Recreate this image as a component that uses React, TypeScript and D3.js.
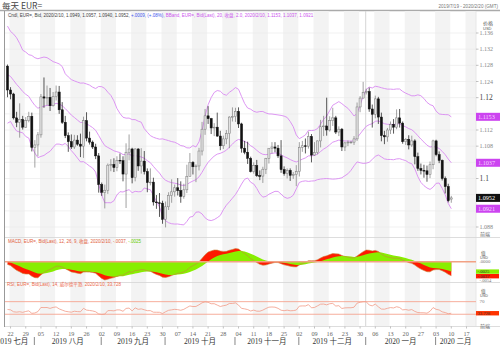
import React from 'react';
import * as d3 from 'd3';

// ---- data ----
const priorCloses = [1.1165, 1.1161, 1.1150, 1.1180, 1.1205, 1.1193, 1.1157, 1.1130, 1.1130, 1.1169, 1.1240, 1.1253, 1.1221, 1.1276, 1.1331, 1.1311, 1.1328, 1.1289, 1.1274, 1.1210, 1.1221, 1.1193, 1.1227, 1.1293, 1.1369, 1.1398, 1.1366, 1.1369, 1.1371, 1.1370, 1.1286, 1.1288, 1.1285, 1.1284, 1.1225, 1.1214, 1.1206, 1.1252, 1.1254, 1.1270, 1.1260, 1.1211, 1.1224, 1.1278];

const opens = [
  1.1278, 1.1219, 1.1209, 1.1150, 1.1139, 1.1146, 1.1127, 1.1143, 1.1154, 1.1077,
  1.1083, 1.1108, 1.1202, 1.1199, 1.1201, 1.1180, 1.1203, 1.1214, 1.1170, 1.1139,
  1.1106, 1.1091, 1.1078, 1.1095, 1.1085, 1.1080, 1.1143, 1.1100, 1.1090, 1.1078,
  1.1056, 1.0985, 1.0966, 1.0971, 1.1033, 1.1035, 1.1027, 1.1045, 1.1044, 1.1011,
  1.1065, 1.1073, 1.1002, 1.1073, 1.1031, 1.1043, 1.1017, 1.0990, 1.0991, 1.0942,
  1.0940, 1.0939, 1.0899, 1.0930, 1.0958, 1.0967, 1.0977, 1.0970, 1.0956, 1.0972,
  1.1005, 1.1040, 1.1029, 1.1031, 1.1068, 1.1122, 1.1155, 1.1148, 1.1125, 1.1127,
  1.1105, 1.1081, 1.1098, 1.1111, 1.1152, 1.1153, 1.1166, 1.1135, 1.1075, 1.1065,
  1.1050, 1.1017, 1.1032, 1.1007, 1.1006, 1.1023, 1.1050, 1.1075, 1.1078, 1.1075,
  1.1056, 1.1022, 1.1012, 1.1020, 1.1008, 1.1010, 1.1017, 1.1077, 1.1081, 1.1080,
  1.1104, 1.1058, 1.1064, 1.1093, 1.1128, 1.1130, 1.1120, 1.1143, 1.1150, 1.1115,
  1.1122, 1.1078, 1.1088, 1.1090, 1.1090, 1.1098, 1.1177, 1.1199, 1.1213, 1.1215,
  1.1172, 1.1159, 1.1197, 1.1152, 1.1106, 1.1103, 1.1120, 1.1134, 1.1127, 1.1150,
  1.1137, 1.1091, 1.1097, 1.1083, 1.1093, 1.1054, 1.1025, 1.1020, 1.1019, 1.1010,
  1.1034, 1.1093, 1.1059, 1.1045, 1.1000, 1.0980, 1.0949,
];
const highs = [
  1.1282, 1.1226, 1.1212, 1.1165, 1.1186, 1.1155, 1.1152, 1.1165, 1.1163, 1.1095,
  1.1115, 1.1209, 1.1250, 1.1230, 1.1224, 1.1214, 1.1230, 1.1229, 1.1189, 1.1155,
  1.1114, 1.1109, 1.1108, 1.1107, 1.1111, 1.1153, 1.1164, 1.1116, 1.1094, 1.1086,
  1.1063, 1.0990, 1.0985, 1.1037, 1.1048, 1.1050, 1.1055, 1.1062, 1.1055, 1.1087,
  1.1109, 1.1076, 1.1075, 1.1075, 1.1075, 1.1068, 1.1025, 1.1025, 1.1002, 1.0959,
  1.0964, 1.0945, 1.0943, 1.0966, 1.0998, 1.0985, 1.1001, 1.0993, 1.0987, 1.1034,
  1.1063, 1.1043, 1.1035, 1.1076, 1.1140, 1.1172, 1.1179, 1.1150, 1.1137, 1.1163,
  1.1118, 1.1106, 1.1120, 1.1154, 1.1176, 1.1175, 1.1176, 1.1138, 1.1093, 1.1091,
  1.1054, 1.1040, 1.1046, 1.1020, 1.1029, 1.1051, 1.1075, 1.1090, 1.1090, 1.1083,
  1.1095, 1.1030, 1.1025, 1.1025, 1.1016, 1.1033, 1.1090, 1.1093, 1.1099, 1.1116,
  1.1110, 1.1090, 1.1094, 1.1145, 1.1155, 1.1200, 1.1154, 1.1175, 1.1155, 1.1129,
  1.1125, 1.1091, 1.1094, 1.1093, 1.1105, 1.1188, 1.1204, 1.1239, 1.1222, 1.1225,
  1.1183, 1.1205, 1.1202, 1.1163, 1.1118, 1.1125, 1.1141, 1.1147, 1.1171, 1.1172,
  1.1141, 1.1100, 1.1107, 1.1106, 1.1097, 1.1064, 1.1037, 1.1034, 1.1032, 1.1042,
  1.1096, 1.1096, 1.1067, 1.1047, 1.1005, 1.0987, 1.0957,
];
const lows = [
  1.1201, 1.1196, 1.1146, 1.1127, 1.1101, 1.1121, 1.1125, 1.1139, 1.1067, 1.1027,
  1.1055, 1.1101, 1.1175, 1.1181, 1.1167, 1.1178, 1.1193, 1.1160, 1.1135, 1.1100,
  1.1066, 1.1073, 1.1073, 1.1081, 1.1053, 1.1051, 1.1092, 1.1084, 1.1073, 1.1048,
  1.0965, 1.0957, 1.0926, 1.0962, 1.1018, 1.1016, 1.1018, 1.1036, 1.0993, 1.0927,
  1.1045, 1.0988, 1.0993, 1.1019, 1.1012, 1.1010, 1.0966, 1.0983, 1.0933, 1.0925,
  1.0905, 1.0888, 1.0879, 1.0922, 1.0940, 1.0955, 1.0958, 1.0940, 1.0950, 1.0964,
  1.1005, 1.1010, 1.0991, 1.1020, 1.1057, 1.1108, 1.1135, 1.1110, 1.1105, 1.1103,
  1.1070, 1.1073, 1.1085, 1.1075, 1.1141, 1.1140, 1.1125, 1.1064, 1.1060, 1.1036,
  1.1015, 1.1012, 1.1004, 1.0996, 1.0989, 1.1011, 1.1037, 1.1062, 1.1065, 1.1051,
  1.1014, 1.1007, 1.1000, 1.0994, 1.0999, 1.0981, 1.1005, 1.1066, 1.1062, 1.1074,
  1.1040, 1.1056, 1.1060, 1.1077, 1.1105, 1.1106, 1.1116, 1.1130, 1.1110, 1.1105,
  1.1068, 1.1068, 1.1080, 1.1086, 1.1083, 1.1093, 1.1164, 1.1198, 1.1208, 1.1165,
  1.1126, 1.1149, 1.1135, 1.1092, 1.1085, 1.1091, 1.1110, 1.1111, 1.1122, 1.1126,
  1.1086, 1.1083, 1.1072, 1.1078, 1.1035, 1.1019, 1.1010, 1.1002, 1.0992, 1.1001,
  1.1023, 1.1055, 1.1038, 1.0995, 1.0963, 1.0941, 1.0940,
];
const closes = [
  1.1219, 1.1209, 1.1150, 1.1139, 1.1146, 1.1127, 1.1143, 1.1154, 1.1077, 1.1083,
  1.1108, 1.1202, 1.1199, 1.1201, 1.1180, 1.1203, 1.1214, 1.1170, 1.1139, 1.1106,
  1.1091, 1.1078, 1.1095, 1.1085, 1.1080, 1.1143, 1.1100, 1.1090, 1.1078, 1.1056,
  1.0985, 1.0966, 1.0971, 1.1033, 1.1035, 1.1027, 1.1045, 1.1044, 1.1011, 1.1065,
  1.1073, 1.1002, 1.1073, 1.1031, 1.1043, 1.1017, 1.0990, 1.0991, 1.0942, 1.0940,
  1.0939, 1.0899, 1.0930, 1.0958, 1.0967, 1.0977, 1.0970, 1.0956, 1.0972, 1.1005,
  1.1040, 1.1029, 1.1031, 1.1068, 1.1122, 1.1155, 1.1148, 1.1125, 1.1127, 1.1105,
  1.1081, 1.1098, 1.1111, 1.1152, 1.1153, 1.1166, 1.1135, 1.1075, 1.1065, 1.1050,
  1.1017, 1.1032, 1.1007, 1.1006, 1.1023, 1.1050, 1.1075, 1.1078, 1.1075, 1.1056,
  1.1022, 1.1012, 1.1020, 1.1008, 1.1010, 1.1017, 1.1077, 1.1081, 1.1080, 1.1104,
  1.1058, 1.1064, 1.1093, 1.1128, 1.1130, 1.1120, 1.1143, 1.1150, 1.1115, 1.1122,
  1.1078, 1.1088, 1.1090, 1.1090, 1.1098, 1.1177, 1.1199, 1.1213, 1.1215, 1.1172,
  1.1159, 1.1197, 1.1152, 1.1106, 1.1103, 1.1120, 1.1134, 1.1127, 1.1150, 1.1137,
  1.1091, 1.1097, 1.1083, 1.1093, 1.1054, 1.1025, 1.1020, 1.1019, 1.1010, 1.1034,
  1.1093, 1.1059, 1.1045, 1.1000, 1.0980, 1.0945, 1.0952,
];

const weekTickLabels = ['22', '29', '05', '12', '19', '26', '02', '09', '16', '23', '30', '07', '14', '21', '28', '04', '11', '18', '25', '02', '09', '16', '23', '30', '06', '13', '20', '27', '03', '10', '17'];
const monthLabels = ['2019 七月', '2019 八月', '2019 九月', '2019 十月', '2019 十一月', '2019 十二月', '2020 一月', '2020 二月'];
const priceTicks = [1.136, 1.132, 1.128, 1.124, 1.12, 1.116, 1.112, 1.108, 1.104, 1.1, 1.096, 1.092, 1.088];
const priceTickLabels = ['1.136', '1.132', '1.128', '1.124', '1.12', '1.116', '1.112', '1.108', '1.104', '1.1', '1.096', '1.092', '1.088'];
const legendMain = ['Cndl, EUR=, Bid, 2020/2/10, 1.0949, 1.0957, 1.0940, 1.0952, ', '+.0009, (+.08%), ', 'BBand, EUR=, Bid(Last), 20, 收盘, 2.0, 2020/2/10, 1.1153, 1.1037, 1.0921'];
const legendMacd = ['MACD, EUR=, Bid(Last), 12, 26, 9, 收盘, 2020/2/10, -.0037, ', '-.0025'];
const legendRsi = 'RSI, EUR=, Bid(Last), 14, 威尔德平滑, 2020/2/10, 33.728';
const lastLabels = { upper: '1.1153', mid: '1.1037', close: '1.0952', lower: '1.0921', macd: '-.0037', signal: '-.0025', rsi: '33.728' };

function emaSeries(arr: number[], p: number): number[] {
  const k = 2 / (p + 1);
  const out: number[] = [];
  let e = arr[0];
  arr.forEach((v, i) => {
    e = i === 0 ? v : e + k * (v - e);
    out.push(e);
  });
  return out;
}

const SERIF = '"Liberation Serif", "Noto Sans CJK SC", serif';
const SANS = '"Liberation Sans", "Noto Sans CJK SC", sans-serif';
const CJK = '"Noto Sans CJK SC", sans-serif';

export default function App() {
  const W = 500, H = 352;
  const off = priorCloses.length;
  const all = priorCloses.concat(closes);
  const n = closes.length;

  // Bollinger bands: EMA(20) middle, +/- 2 SD
  const ema20 = emaSeries(all, 20);
  const bbMid: number[] = [], bbUp: number[] = [], bbLo: number[] = [];
  for (let i = 0; i < n; i++) {
    const j = i + off;
    const win = all.slice(j - 19, j + 1);
    const sd = d3.deviation(win)! * Math.sqrt(19 / 20);
    bbMid.push(ema20[j]);
    bbUp.push(ema20[j] + 2 * sd);
    bbLo.push(ema20[j] - 2 * sd);
  }
  // MACD 12/26/9
  const e12 = emaSeries(all, 12), e26 = emaSeries(all, 26);
  const macdAll = all.map((_, i) => e12[i] - e26[i]);
  const sigAll = emaSeries(macdAll, 9);
  const macd = macdAll.slice(off), sig = sigAll.slice(off);
  // RSI 14 (Wilder)
  const rsiAll: number[] = new Array(all.length).fill(50);
  let ag = 0, al = 0;
  for (let i = 1; i <= 14; i++) {
    const c = all[i] - all[i - 1];
    ag += Math.max(c, 0) / 14; al += Math.max(-c, 0) / 14;
  }
  for (let i = 15; i < all.length; i++) {
    const c = all[i] - all[i - 1];
    ag = (ag * 13 + Math.max(c, 0)) / 14;
    al = (al * 13 + Math.max(-c, 0)) / 14;
    rsiAll[i] = 100 - 100 / (1 + ag / al);
  }
  const rsi = rsiAll.slice(off);

  const days = d3.timeDay.range(new Date(2019, 6, 19), new Date(2020, 1, 21)).filter(d => d.getDay() % 6 !== 0);
  const mondays = days.map((d, i) => ({ d, i })).filter(o => o.d.getDay() === 1);
  const monthStarts = days.map((d, i) => ({ d, i })).filter(o => o.i > 0 && o.d.getMonth() !== days[o.i - 1].getMonth());

  const x = d3.scaleLinear().domain([0, 151]).range([7.5, 466.5]);
  const y = d3.scaleLinear().domain([1.088, 1.136]).range([227, 33]);
  const yM = d3.scaleLinear().domain([-0.0054, 0.0048]).range([282.2, 243.5]);
  const yR = d3.scaleLinear().domain([0, 100]).range([323.7, 292.2]);

  const PL = 5, PR = 476;
  const idx = d3.range(n);
  const bbLine = (arr: number[]) => d3.line<number>().x(i => x(i)).y(i => y(arr[i]))(idx) || '';
  const redArea = d3.area<number>().x(i => x(i)).y0(yM(0)).y1(i => yM(macd[i]))(idx) || '';
  const greenArea = d3.area<number>().x(i => x(i)).y0(yM(0)).y1(i => yM(sig[i]))(idx) || '';
  const macdLine = d3.line<number>().x(i => x(i)).y(i => yM(macd[i]))(idx) || '';
  const rsiLine = d3.line<number>().x(i => x(i)).y(i => yR(rsi[i]))(idx) || '';

  const bw = 2.1;
  const bbColor = '#d98af2';
  const sepX = monthStarts.map(o => x(o.i) - 0.5);
  const bounds = [null as number | null, ...sepX, x(154)];
  const monthPos = monthLabels.map((_, k) => {
    if (k === 0) return { x: sepX[0] - 6, anchor: 'end' };
    return { x: ((bounds[k] as number) + (bounds[k + 1] as number)) / 2, anchor: 'middle' };
  });
  const yearSep = monthStarts.find(o => o.d.getMonth() === 0);
  const boxYs = [bbUp[n - 1], bbMid[n - 1], closes[n - 1], bbLo[n - 1]].map(v => y(v));

  const valueBox = (cy: number, label: string, fill: string, tc: string) => (
    <g>
      <rect x={PR} y={cy - 4} width={24} height={8} fill={fill} />
      <text x={PR + 2} y={cy + 2.2} fontSize={6.2} fontFamily={SERIF} fill={tc}>{label}</text>
    </g>
  );
  const smallBox = (cy: number, label: string, fill: string, tc: string) => (
    <g>
      <rect x={PR} y={cy - 2.2} width={23} height={4.4} fill={fill} />
      <text x={PR + 1.5} y={cy + 1.6} fontSize={4.6} fontFamily={SERIF} fill={tc}>{label}</text>
    </g>
  );
  const sigY = yM(sig[n - 1]);
  const macdY = Math.max(yM(macd[n - 1]), sigY + 4.6);

  return (
    <div style={{ position: 'fixed', left: 0, top: 0, width: W, height: H, background: '#fff' }}>
      <svg width={W} height={H} viewBox={`0 0 ${W} ${H}`} style={{ display: 'block' }}>
        <defs>
          <clipPath id="cMain"><rect x={PL} y={11} width={PR - PL} height={226} /></clipPath>
          <clipPath id="cMacd"><rect x={PL} y={243} width={PR - PL} height={39} /></clipPath>
          <clipPath id="cRsi"><rect x={PL} y={287} width={PR - PL} height={38} /></clipPath>
        </defs>
        <rect x={0} y={0} width={W} height={H} fill="#fff" />
        {/* header */}
        <text x={2} y={8.5} fontSize={8.5} fontFamily={CJK} fill="#444">每天 EUR=</text>
        <text x={498} y={8} fontSize={4.6} fontFamily={SANS} fill="#777" textAnchor="end">2019/7/19 - 2020/2/20 (GMT)</text>
        <line x1={0} x2={W} y1={10.5} y2={10.5} stroke="#aaa" strokeWidth={1.4} />

        {/* weekly stripes */}
        {mondays.map((o, k) => k % 2 === 0 ? (
          <rect key={'s' + k} x={x(o.i) - 1} y={11.2} width={Math.min(x(o.i + 5), PR + 1) - x(o.i)} height={315} fill="#f3f3f3" />
        ) : null)}
        {priceTicks.map((t, k) => (
          <line key={'g' + k} x1={PL} x2={PR} y1={y(t)} y2={y(t)} stroke="#ebebeb" strokeWidth={0.7} />
        ))}
        {yearSep && <line x1={x(yearSep.i) - 0.5} x2={x(yearSep.i) - 0.5} y1={11} y2={326} stroke="#d6d6d6" strokeWidth={1} />}
        <line x1={PL - 0.5} x2={PL - 0.5} y1={11} y2={327} stroke="#999" strokeWidth={1} />
        <line x1={PR} x2={PR} y1={11} y2={326} stroke="#e2e2e2" strokeWidth={0.8} />
        <line x1={PL} x2={W} y1={237.5} y2={237.5} stroke="#d4d4d4" strokeWidth={0.8} />
        <line x1={PL} x2={W} y1={282.5} y2={282.5} stroke="#d4d4d4" strokeWidth={0.8} />
        <line x1={PL} x2={W} y1={326.5} y2={326.5} stroke="#d4d4d4" strokeWidth={0.8} />

        {/* price panel */}
        <g clipPath="url(#cMain)">
          <path d={bbLine(bbUp)} fill="none" stroke={bbColor} strokeWidth={0.9} />
          <path d={bbLine(bbMid)} fill="none" stroke={bbColor} strokeWidth={0.9} />
          <path d={bbLine(bbLo)} fill="none" stroke={bbColor} strokeWidth={0.9} />
          {closes.map((c, i) => {
            const o = opens[i];
            const up = c >= o;
            const top = y(Math.max(o, c));
            const bot = y(Math.min(o, c));
            const col = up ? '#7a7a7a' : '#111';
            return (
              <g key={'c' + i}>
                <line x1={x(i)} x2={x(i)} y1={y(highs[i])} y2={y(lows[i])} stroke={col} strokeWidth={0.7} />
                <rect x={x(i) - bw / 2} y={top} width={bw} height={Math.max(bot - top, 0.7)} fill={up ? '#e2e2e2' : '#111'} stroke={col} strokeWidth={0.5} />
              </g>
            );
          })}
        </g>
        <text x={8} y={17} fontSize={4.5} fontFamily={SANS}>
          <tspan fill="#444">{legendMain[0]}</tspan>
          <tspan fill="#4455ee">{legendMain[1]}</tspan>
          <tspan fill="#cc55ee">{legendMain[2]}</tspan>
        </text>

        {/* price axis */}
        <text x={483} y={24.5} fontSize={5} fontFamily={CJK} fill="#555">价格</text>
        <text x={483} y={29.5} fontSize={4} fontFamily={SANS} fill="#555">USD</text>
        {priceTicks.map((t, k) => {
          const big = priceTickLabels[k].length <= 4;
          const hidden = boxYs.some(by => Math.abs(by - y(t)) < 6.5);
          return (
            <g key={'pt' + k}>
              <line x1={PR} x2={PR + 2.5} y1={y(t)} y2={y(t)} stroke="#999" strokeWidth={0.6} />
              {!hidden && <text x={PR + 3.5} y={y(t) + (big ? 2.6 : 2.1)} fontSize={big ? 7.5 : 6} fontFamily={SERIF} fill={big ? '#444' : '#888'}>{priceTickLabels[k]}</text>}
            </g>
          );
        })}
        {valueBox(y(bbUp[n - 1]), lastLabels.upper, '#cc44f0', '#f5d8ff')}
        {valueBox(y(bbMid[n - 1]), lastLabels.mid, '#cc44f0', '#f5d8ff')}
        {valueBox(y(closes[n - 1]), lastLabels.close, '#111', '#fff')}
        {valueBox(y(bbLo[n - 1]), lastLabels.lower, '#cc44f0', '#f5d8ff')}
        <text x={480} y={236} fontSize={5} fontFamily={CJK} fill="#666">前端</text>

        {/* MACD panel */}
        <g clipPath="url(#cMacd)">
          <path d={redArea} fill="#ff1a00" />
          <path d={greenArea} fill="#88ee00" />
          <path d={macdLine} fill="none" stroke="#c8843c" strokeWidth={0.6} />
        </g>
        <line x1={PL} x2={PR} y1={yM(0)} y2={yM(0)} stroke="#f2a184" strokeWidth={1.4} />
        <text x={8} y={242.5} fontSize={4.5} fontFamily={SANS}>
          <tspan fill="#e2603c">{legendMacd[0]}</tspan>
          <tspan fill="#66cc00">{legendMacd[1]}</tspan>
        </text>
        <text x={481} y={255} fontSize={4.6} fontFamily={CJK} fill="#555">值</text>
        <text x={480} y={259.2} fontSize={3.8} fontFamily={SANS} fill="#555">USD</text>
        <text x={PR + 3.5} y={yM(0) + 1.6} fontSize={4.8} fontFamily={SERIF} fill="#777">.0000</text>
        {smallBox(sigY, lastLabels.signal, '#88ee00', '#333')}
        {smallBox(macdY, lastLabels.macd, '#ff1a00', '#333')}
        <text x={PR + 3.5} y={Math.max(macdY + 6, 281)} fontSize={4.6} fontFamily={SERIF} fill="#777">-.0054</text>

        {/* RSI panel */}
        <line x1={PL} x2={PR} y1={yR(70)} y2={yR(70)} stroke="#f5a592" strokeWidth={0.9} />
        <line x1={PL} x2={PR} y1={yR(30)} y2={yR(30)} stroke="#f5a592" strokeWidth={0.9} />
        <g clipPath="url(#cRsi)">
          <path d={rsiLine} fill="none" stroke="#f29a86" strokeWidth={0.8} />
        </g>
        <text x={7} y={286} fontSize={4.5} fontFamily={SANS} fill="#ee6a4a">{legendRsi}</text>
        <text x={481} y={293} fontSize={4.6} fontFamily={CJK} fill="#555">值</text>
        <text x={480} y={297.2} fontSize={3.8} fontFamily={SANS} fill="#555">USD</text>
        <text x={PR + 3.5} y={yR(70) + 1.8} fontSize={5} fontFamily={SERIF} fill="#777">70</text>
        {smallBox(yR(rsi[n - 1]), lastLabels.rsi, '#ff3300', '#333')}
        <text x={480} y={328} fontSize={5} fontFamily={CJK} fill="#666">前端</text>

        {/* date axis */}
        {mondays.map((o, k) => (
          <g key={'wt' + k}>
            <line x1={x(o.i)} x2={x(o.i)} y1={326.5} y2={328.5} stroke="#999" strokeWidth={0.6} />
            <text x={x(o.i)} y={335.5} fontSize={6.2} fontFamily={SERIF} fill="#666" textAnchor="middle">{weekTickLabels[k]}</text>
          </g>
        ))}
        {sepX.map((sx, k) => (
          <line key={'ms' + k} x1={sx} x2={sx} y1={337} y2={345} stroke="#555" strokeWidth={0.7} />
        ))}
        {monthLabels.map((m, k) => (
          <text key={'ml' + k} x={monthPos[k].x} y={343.8} fontSize={7.5} fontFamily={SERIF} fill="#333" textAnchor={monthPos[k].anchor as any}>{m}</text>
        ))}
      </svg>
    </div>
  );
}
